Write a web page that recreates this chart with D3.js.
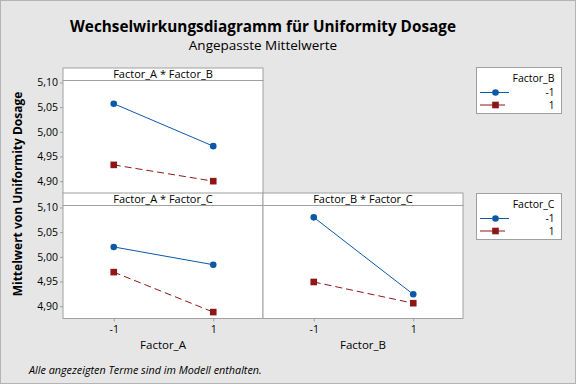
<!DOCTYPE html>
<html>
<head>
<meta charset="utf-8">
<script src="https://cdn.jsdelivr.net/npm/d3@7"></script>
<style>
  body { margin: 0; background: #e6e6e6; }
  text { font-family: "Open Sans", "Noto Sans", sans-serif; fill: #000; }
</style>
</head>
<body>
<div id="chart"></div>
<script>
// factor levels and tick values
var levels = [-1, 1];
var levelLabels = ["-1", "1"];
var yTicks = [4.90, 4.95, 5.00, 5.05, 5.10];

// adjusted means
var abLow  = [5.057, 4.971];   // Factor_B = -1, over Factor_A
var abHigh = [4.933, 4.900];   // Factor_B = 1
var acLow  = [5.020, 4.984];   // Factor_C = -1, over Factor_A
var acHigh = [4.969, 4.888];   // Factor_C = 1
var bcLow  = [5.080, 4.924];   // Factor_C = -1, over Factor_B
var bcHigh = [4.949, 4.906];   // Factor_C = 1

var width = 576, height = 384;
var blue = "#0a58a6", red = "#8e1616", grid = "#a0a0a0";

var svg = d3.select("#chart").append("svg")
  .attr("width", width)
  .attr("height", height);

svg.append("rect")
  .attr("x", 0.5).attr("y", 0.5)
  .attr("width", width - 1).attr("height", height - 1)
  .attr("fill", "#e6e6e6")
  .attr("stroke", "#b4b4b4");

var left = 63, pw = 200, stripH = 12.5, plotH = 113;
var rowTop = [68, 193];

var x = d3.scaleLinear().domain([-2.02, 2]).range([0, pw]);
var y = d3.scaleLinear().domain([4.875, 5.104]).range([plotH, 0]);
var fmt = function(d) { return d3.format(".2f")(d).replace(".", ","); };
var xfmt = function(d) { return levelLabels[levels.indexOf(d)]; };

var panels = [
  { col: 0, row: 0, title: "Factor_A * Factor_B", series: [abLow, abHigh] },
  { col: 0, row: 1, title: "Factor_A * Factor_C", series: [acLow, acHigh] },
  { col: 1, row: 1, title: "Factor_B * Factor_C", series: [bcLow, bcHigh] }
];

panels.forEach(function(p) {
  var g = svg.append("g")
    .attr("transform", "translate(" + (left + p.col * pw) + "," + rowTop[p.row] + ")");

  // strip
  g.append("rect")
    .attr("x", 0).attr("y", 0).attr("width", pw).attr("height", stripH)
    .attr("fill", "#fff").attr("stroke", grid);
  g.append("text")
    .attr("x", pw / 2).attr("y", stripH - 2.5)
    .attr("text-anchor", "middle")
    .style("font-size", "11px")
    .text(p.title);

  var plot = g.append("g").attr("transform", "translate(0," + stripH + ")");
  plot.append("rect")
    .attr("width", pw).attr("height", plotH)
    .attr("fill", "#fff").attr("stroke", grid);

  if (p.col === 0) {
    var ya = plot.append("g")
      .call(d3.axisLeft(y).tickValues(yTicks).tickSize(3).tickPadding(2).tickFormat(fmt));
    ya.select(".domain").remove();
    ya.selectAll("line").attr("stroke", grid);
    ya.selectAll("text").style("font-size", "10.5px").attr("font-family", null);
  }
  if (p.row === 1) {
    var xa = plot.append("g")
      .attr("transform", "translate(0," + plotH + ")")
      .call(d3.axisBottom(x).tickValues(levels).tickSize(3).tickPadding(4).tickFormat(xfmt));
    xa.select(".domain").remove();
    xa.selectAll("line").attr("stroke", grid);
    xa.selectAll("text").style("font-size", "10.5px").attr("font-family", null);
  }

  var line = d3.line()
    .x(function(d, i) { return x(levels[i]); })
    .y(function(d) { return y(d); });

  plot.append("path")
    .datum(p.series[0])
    .attr("d", line)
    .attr("fill", "none").attr("stroke", blue).attr("stroke-width", 1);
  plot.append("path")
    .datum(p.series[1])
    .attr("d", line)
    .attr("fill", "none").attr("stroke", red).attr("stroke-width", 1)
    .attr("stroke-dasharray", "7,4");

  plot.selectAll("circle")
    .data(p.series[0])
    .enter().append("circle")
    .attr("cx", function(d, i) { return x(levels[i]); })
    .attr("cy", function(d) { return y(d); })
    .attr("r", 3.3)
    .attr("fill", blue);
  plot.selectAll(".sq")
    .data(p.series[1])
    .enter().append("rect")
    .attr("class", "sq")
    .attr("x", function(d, i) { return x(levels[i]) - 3.3; })
    .attr("y", function(d) { return y(d) - 3.3; })
    .attr("width", 6.6).attr("height", 6.6)
    .attr("fill", red);
});

// legends
var legends = [
  { top: 67, title: "Factor_B" },
  { top: 193, title: "Factor_C" }
];
legends.forEach(function(l) {
  var g = svg.append("g").attr("transform", "translate(476.5," + (l.top + 0.5) + ")");
  g.append("rect")
    .attr("width", 85).attr("height", 46)
    .attr("fill", "#fff").attr("stroke", grid);
  g.append("text")
    .attr("x", 78).attr("y", 14)
    .attr("text-anchor", "end")
    .style("font-size", "10.5px")
    .text(l.title);
  var rows = [
    { label: levelLabels[0], color: blue, y: 25, x2: 32.5, shape: "circle" },
    { label: levelLabels[1], color: red, y: 37.5, x2: 28.5, shape: "square" }
  ];
  rows.forEach(function(r) {
    g.append("line")
      .attr("x1", 3.5).attr("x2", r.x2)
      .attr("y1", r.y).attr("y2", r.y)
      .attr("stroke", r.color);
    if (r.shape === "circle") {
      g.append("circle").attr("cx", 19).attr("cy", r.y).attr("r", 3.3).attr("fill", r.color);
    } else {
      g.append("rect").attr("x", 15.7).attr("y", r.y - 3.3)
        .attr("width", 6.6).attr("height", 6.6).attr("fill", r.color);
    }
    g.append("text")
      .attr("x", 78).attr("y", r.y + 3.5)
      .attr("text-anchor", "end")
      .style("font-size", "10px")
      .text(r.label);
  });
});

// titles
svg.append("text")
  .attr("x", 263).attr("y", 32)
  .attr("text-anchor", "middle")
  .style("font-size", "15.3px").style("font-weight", "bold")
  .text("Wechselwirkungsdiagramm für Uniformity Dosage");
svg.append("text")
  .attr("x", 263).attr("y", 50)
  .attr("text-anchor", "middle")
  .style("font-size", "13.5px")
  .text("Angepasste Mittelwerte");

svg.append("text")
  .attr("transform", "translate(22,194) rotate(-90)")
  .attr("text-anchor", "middle")
  .style("font-size", "12px").style("font-weight", "bold")
  .text("Mittelwert von Uniformity Dosage");

svg.append("text")
  .attr("x", 163).attr("y", 349)
  .attr("text-anchor", "middle")
  .style("font-size", "11.5px")
  .text("Factor_A");
svg.append("text")
  .attr("x", 363).attr("y", 349)
  .attr("text-anchor", "middle")
  .style("font-size", "11.5px")
  .text("Factor_B");

svg.append("text")
  .attr("x", 29).attr("y", 374)
  .style("font-size", "10.8px").style("font-style", "italic")
  .text("Alle angezeigten Terme sind im Modell enthalten.");
</script>
</body>
</html>
